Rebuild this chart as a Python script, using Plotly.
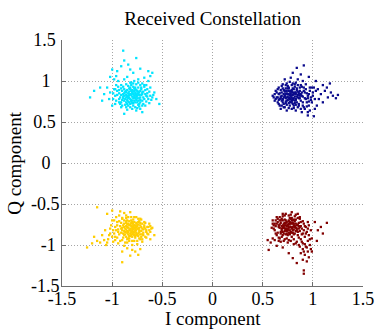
import plotly.graph_objects as go

# Hand-read sample points (I, Q) for each constellation cluster
cyan_pts = [(-0.80,0.85),(-0.78,0.82),(-0.83,0.80),(-0.75,0.88),(-0.86,0.86),(-0.72,0.80),(-0.81,0.77),(-0.77,0.90),(-0.88,0.82),(-0.70,0.84),(-0.84,0.75),(-0.79,0.79),(-0.74,0.76),(-0.90,0.88),(-0.82,0.92),(-0.76,0.83),(-0.87,0.78),(-0.73,0.86),(-0.85,0.81),(-0.79,0.73),(-0.68,0.78),(-0.81,0.88),(-0.89,0.84),(-0.77,0.86),(-0.83,0.87),(-0.71,0.90),(-0.92,0.80),(-0.75,0.79),(-0.80,0.81),(-0.86,0.74),(-0.78,0.76),(-0.66,0.82),(-0.82,0.84),(-0.74,0.92),(-0.88,0.90),(-0.79,0.70),(-0.93,0.85),(-0.72,0.74),(-0.84,0.79),(-0.76,0.81),(-0.81,0.95),(-0.69,0.87),(-0.87,0.71),(-0.73,0.83),(-0.90,0.77),(-0.77,0.74),(-0.83,0.83),(-0.70,0.76),(-0.85,0.89),(-0.78,0.88),(-0.95,0.83),(-0.65,0.85),(-0.80,0.76),(-0.75,0.85),(-0.89,0.79),(-0.82,0.72),(-0.72,0.88),(-0.86,0.83),(-0.79,0.93),(-0.74,0.71),
    (-0.81,0.83),(-0.77,0.84),(-0.84,0.85),(-0.79,0.87),(-0.75,0.82),(-0.82,0.78),(-0.86,0.80),(-0.73,0.79),(-0.78,0.80),(-0.80,0.89),(-0.76,0.77),(-0.83,0.74),(-0.71,0.83),(-0.87,0.87),(-0.74,0.87),(-0.80,0.73),(-0.85,0.77),(-0.77,0.92),(-0.69,0.80),(-0.82,0.90),(-0.79,0.84),(-0.72,0.77),(-0.88,0.85),(-0.76,0.89),(-0.84,0.82),(-0.70,0.86),(-0.81,0.75),(-0.75,0.74),(-0.89,0.81),(-0.78,0.91),(-0.67,0.84),(-0.83,0.91),(-0.73,0.72),(-0.86,0.88),(-0.77,0.79),(-0.91,0.83),(-0.71,0.92),(-0.80,0.86),(-0.85,0.72),(-0.74,0.84),
    (-0.95,0.88),(-0.93,0.78),(-0.97,0.82),(-0.91,0.91),(-0.94,0.93),(-0.99,0.85),(-0.92,0.72),(-0.96,0.76),(-0.90,0.70),(-0.86,0.68),(-0.82,0.68),(-0.77,0.68),(-0.73,0.69),(-0.69,0.72),(-0.66,0.75),(-0.64,0.78),(-0.62,0.82),(-0.63,0.87),(-0.65,0.90),(-0.68,0.93),(-0.72,0.95),(-0.76,0.96),(-0.81,0.98),(-0.86,0.96),(-0.89,0.93),(-0.84,0.94),(-0.88,0.76),(-0.70,0.70),(-0.67,0.89),(-0.93,0.89),(-0.61,0.77),(-0.59,0.83),(-0.97,0.90),(-0.75,0.67),(-0.84,0.70),(-0.65,0.81),(-0.68,0.95),(-0.91,0.74),(-0.79,0.97),(-0.74,0.98),
    (-0.98,0.90),(-1.02,0.86),(-0.96,0.95),(-1.05,0.92),(-0.99,0.78),(-1.08,0.84),(-0.94,1.00),(-0.88,1.02),(-0.85,1.05),(-0.78,1.00),(-0.70,0.97),(-0.66,0.95),(-0.62,0.92),(-0.64,1.00),(-0.68,1.04),(-0.60,0.80),(-0.63,0.73),(-0.67,0.70),(-0.72,0.66),(-0.80,0.66),(-0.85,0.65),(-0.91,0.68),(-0.97,0.72),(-1.00,0.70),(-0.93,0.74),(-1.03,0.78),(-0.58,0.86),(-0.62,1.06),(-0.74,1.02),(-0.91,0.95),(-0.96,1.06),(-0.82,0.98),(-0.76,0.64),(-0.88,0.60),(-0.70,0.62),
    (-1.18,0.88),(-1.22,0.80),(-1.12,0.92),(-1.10,0.76),(-0.91,1.18),(-0.88,1.25),(-0.89,1.37),(-0.82,1.14),(-0.95,1.12),(-0.76,1.28),(-0.79,1.10),(-0.72,1.15),(-0.98,1.02),(-1.02,1.05),(-0.56,0.78),(-0.53,0.72),(-0.60,1.10),(-0.64,1.12),(-0.84,1.20),(-1.00,1.14)]

navy_pts = [(0.80,0.83),(0.77,0.80),(0.83,0.86),(0.74,0.85),(0.86,0.79),(0.79,0.76),(0.72,0.82),(0.81,0.90),(0.76,0.88),(0.88,0.84),(0.70,0.78),(0.84,0.74),(0.78,0.85),(0.73,0.75),(0.82,0.81),(0.75,0.91),(0.87,0.88),(0.69,0.86),(0.80,0.72),(0.85,0.83),(0.77,0.78),(0.71,0.89),(0.83,0.77),(0.79,0.87),(0.74,0.80),(0.90,0.81),(0.76,0.73),(0.82,0.93),(0.68,0.81),(0.78,0.82),(0.86,0.86),(0.73,0.84),(0.81,0.79),(0.75,0.77),(0.84,0.89),(0.70,0.74),(0.79,0.80),(0.88,0.76),(0.72,0.87),(0.80,0.86),(0.77,0.70),(0.83,0.84),(0.67,0.78),(0.75,0.94),(0.86,0.72),(0.78,0.88),(0.74,0.71),(0.89,0.86),(0.71,0.80),(0.82,0.76),(0.76,0.84),(0.79,0.95),(0.85,0.80),(0.69,0.76),(0.81,0.85),(0.73,0.91),(0.87,0.82),(0.77,0.75),(0.66,0.84),(0.80,0.78),
    (0.78,0.83),(0.75,0.81),(0.81,0.84),(0.77,0.87),(0.73,0.79),(0.80,0.77),(0.84,0.81),(0.71,0.84),(0.76,0.79),(0.79,0.89),(0.74,0.76),(0.82,0.73),(0.69,0.82),(0.86,0.84),(0.72,0.88),(0.78,0.74),(0.83,0.78),(0.76,0.91),(0.68,0.79),(0.80,0.91),(0.77,0.83),(0.70,0.77),(0.85,0.87),(0.74,0.88),(0.82,0.86),(0.67,0.85),(0.79,0.74),(0.73,0.73),(0.87,0.79),(0.76,0.92),(0.65,0.80),(0.81,0.70),(0.71,0.72),(0.84,0.91),(0.75,0.84),(0.89,0.82),(0.70,0.91),(0.78,0.78),(0.83,0.71),(0.72,0.81),
    (0.62,0.84),(0.63,0.78),(0.65,0.74),(0.67,0.70),(0.71,0.68),(0.76,0.67),(0.81,0.67),(0.86,0.70),(0.90,0.74),(0.92,0.79),(0.94,0.85),(0.93,0.90),(0.89,0.93),(0.85,0.95),(0.80,0.97),(0.74,0.97),(0.69,0.94),(0.65,0.90),(0.64,0.86),(0.61,0.80),(0.96,0.84),(0.98,0.77),(1.00,0.82),(0.97,0.92),(1.03,0.88),(0.91,0.68),(0.88,0.66),(0.83,0.64),(0.69,0.70),(0.66,0.77),(0.87,0.92),(0.91,0.88),(0.73,0.95),(0.68,0.89),(0.95,0.79),(0.99,0.74),(1.01,0.92),(0.94,0.69),(0.82,0.96),(0.60,0.82),
    (0.92,0.86),(0.95,0.82),(0.93,0.78),(0.97,0.88),(0.91,0.92),(0.94,0.74),(0.98,0.80),(0.90,0.70),(0.85,0.68),(0.79,0.66),(0.72,0.68),(0.66,0.72),(0.64,0.80),(0.63,0.88),(0.66,0.92),(0.70,0.96),(0.77,0.99),(0.83,0.98),(0.88,0.95),(0.93,0.96),(0.96,0.70),(0.92,0.66),(0.89,0.62),(0.95,0.62),(0.74,0.64),(0.68,0.66),(0.62,0.76),(1.00,0.86),(1.02,0.78),(0.99,0.92),(0.85,1.02),(0.78,1.04),(0.72,1.02),(0.90,1.00),(0.96,0.75),
    (1.05,0.90),(1.08,0.84),(1.12,0.88),(1.15,0.80),(1.18,0.86),(1.20,0.82),(1.23,0.79),(1.25,0.83),(1.10,0.95),(1.06,0.78),(1.14,0.92),(1.17,0.97),(1.03,1.00),(0.96,1.05),(0.88,1.08),(0.80,1.10),(0.84,1.16),(0.91,1.19),(0.95,0.58),(1.01,0.57),(0.97,0.64),(1.04,0.70),(1.02,0.66),(1.10,0.74)]

gold_pts = [(-0.82,-0.80),(-0.79,-0.77),(-0.85,-0.83),(-0.76,-0.82),(-0.88,-0.78),(-0.80,-0.74),(-0.73,-0.79),(-0.84,-0.87),(-0.78,-0.85),(-0.90,-0.82),(-0.75,-0.75),(-0.86,-0.73),(-0.81,-0.84),(-0.71,-0.83),(-0.83,-0.76),(-0.77,-0.89),(-0.89,-0.86),(-0.74,-0.86),(-0.87,-0.80),(-0.80,-0.90),(-0.72,-0.76),(-0.84,-0.79),(-0.78,-0.72),(-0.92,-0.77),(-0.76,-0.78),(-0.82,-0.86),(-0.70,-0.80),(-0.86,-0.90),(-0.79,-0.81),(-0.88,-0.74),(-0.74,-0.72),(-0.81,-0.77),(-0.85,-0.85),(-0.77,-0.83),(-0.69,-0.85),(-0.90,-0.79),(-0.83,-0.71),(-0.75,-0.88),(-0.80,-0.79),(-0.87,-0.84),(-0.73,-0.82),(-0.79,-0.74),(-0.84,-0.92),(-0.68,-0.78),(-0.82,-0.82),(-0.76,-0.85),(-0.91,-0.85),(-0.78,-0.79),(-0.86,-0.77),(-0.72,-0.87),(-0.80,-0.83),(-0.88,-0.88),(-0.74,-0.80),(-0.83,-0.89),(-0.77,-0.76),(-0.94,-0.81),(-0.70,-0.74),(-0.85,-0.75),(-0.79,-0.87),(-0.81,-0.73),
    (-0.80,-0.81),(-0.77,-0.79),(-0.83,-0.82),(-0.79,-0.84),(-0.75,-0.77),(-0.82,-0.75),(-0.86,-0.81),(-0.73,-0.84),(-0.78,-0.76),(-0.81,-0.88),(-0.76,-0.73),(-0.84,-0.74),(-0.71,-0.78),(-0.87,-0.87),(-0.74,-0.89),(-0.80,-0.72),(-0.85,-0.78),(-0.77,-0.91),(-0.69,-0.81),(-0.82,-0.89),(-0.79,-0.78),(-0.72,-0.73),(-0.88,-0.83),(-0.76,-0.87),(-0.84,-0.84),(-0.70,-0.87),(-0.81,-0.70),(-0.75,-0.80),(-0.89,-0.76),(-0.78,-0.88),(-0.67,-0.80),(-0.83,-0.92),(-0.73,-0.71),(-0.86,-0.71),(-0.77,-0.81),(-0.91,-0.80),(-0.71,-0.90),(-0.80,-0.86),(-0.85,-0.70),(-0.74,-0.75),
    (-0.96,-0.82),(-0.95,-0.76),(-0.93,-0.71),(-0.90,-0.67),(-0.86,-0.67),(-0.81,-0.66),(-0.76,-0.66),(-0.71,-0.69),(-0.67,-0.73),(-0.65,-0.78),(-0.63,-0.82),(-0.64,-0.87),(-0.66,-0.91),(-0.70,-0.93),(-0.75,-0.95),(-0.80,-0.95),(-0.85,-0.93),(-0.89,-0.91),(-0.93,-0.87),(-0.97,-0.90),(-0.99,-0.82),(-1.01,-0.76),(-0.98,-0.70),(-0.92,-0.95),(-0.87,-0.97),(-0.68,-0.76),(-0.69,-0.88),(-0.74,-0.68),(-0.61,-0.80),(-0.79,-0.69),(-0.91,-0.73),(-0.94,-0.84),(-0.66,-0.84),(-0.73,-0.92),(-0.83,-0.95),(-1.03,-0.88),(-1.05,-0.97),(-0.97,-0.94),(-0.88,-0.70),(-0.62,-0.77),
    (-0.66,-0.82),(-0.64,-0.78),(-0.65,-0.86),(-0.68,-0.72),(-0.72,-0.68),(-0.78,-0.66),(-0.84,-0.66),(-0.90,-0.68),(-0.95,-0.72),(-0.97,-0.78),(-0.98,-0.86),(-0.95,-0.91),(-0.90,-0.94),(-0.85,-0.97),(-0.78,-0.95),(-0.72,-0.93),(-0.67,-0.90),(-0.62,-0.84),(-0.60,-0.79),(-0.93,-0.64),(-0.88,-0.61),(-0.82,-0.60),(-0.96,-0.66),(-1.00,-0.70),(-1.02,-0.80),(-1.00,-0.90),(-0.94,-0.98),(-0.80,-1.00),(-0.75,-0.99),(-0.88,-1.01),(-0.70,-0.96),(-0.63,-0.74),(-0.99,-0.96),(-1.04,-0.93),(-0.86,-0.64),
    (-1.08,-0.94),(-1.12,-0.97),(-1.15,-0.95),(-1.20,-0.98),(-1.25,-1.03),(-1.10,-0.88),(-1.06,-1.00),(-1.18,-0.90),(-1.05,-0.62),(-1.00,-0.58),(-1.15,-0.54),(-0.92,-0.59),(-0.72,-1.05),(-0.77,-1.08),(-0.74,-1.12),(-0.80,-1.06),(-0.85,-1.04),(-0.90,-1.21),(-0.82,-1.13),(-0.90,-1.08),(-1.02,-0.86),(-1.07,-0.82),(-0.58,-0.88),(-0.62,-0.93)]

red_pts = [(0.78,-0.78),(0.75,-0.75),(0.81,-0.81),(0.72,-0.80),(0.84,-0.76),(0.77,-0.72),(0.70,-0.76),(0.80,-0.85),(0.74,-0.83),(0.86,-0.80),(0.68,-0.73),(0.82,-0.71),(0.76,-0.79),(0.71,-0.86),(0.79,-0.74),(0.73,-0.70),(0.85,-0.84),(0.67,-0.79),(0.80,-0.78),(0.75,-0.88),(0.83,-0.74),(0.69,-0.82),(0.78,-0.68),(0.88,-0.77),(0.72,-0.76),(0.81,-0.87),(0.66,-0.76),(0.77,-0.82),(0.84,-0.80),(0.70,-0.70),(0.79,-0.80),(0.74,-0.77),(0.86,-0.73),(0.76,-0.85),(0.68,-0.84),(0.82,-0.78),(0.73,-0.73),(0.79,-0.90),(0.87,-0.83),(0.71,-0.79),(0.77,-0.75),(0.65,-0.72),(0.83,-0.69),(0.75,-0.81),(0.80,-0.73),(0.69,-0.77),(0.85,-0.88),(0.78,-0.84),(0.72,-0.73),(0.89,-0.80),(0.76,-0.71),(0.81,-0.76),(0.67,-0.70),(0.74,-0.80),(0.83,-0.83),(0.70,-0.88),(0.79,-0.70),(0.86,-0.77),(0.73,-0.82),(0.77,-0.87),
    (0.76,-0.78),(0.73,-0.76),(0.79,-0.79),(0.75,-0.82),(0.71,-0.74),(0.78,-0.73),(0.82,-0.77),(0.69,-0.80),(0.74,-0.72),(0.77,-0.86),(0.72,-0.69),(0.80,-0.70),(0.67,-0.75),(0.84,-0.82),(0.70,-0.84),(0.76,-0.70),(0.81,-0.74),(0.73,-0.87),(0.66,-0.78),(0.79,-0.85),(0.75,-0.76),(0.68,-0.70),(0.83,-0.79),(0.72,-0.83),(0.80,-0.82),(0.64,-0.74),(0.77,-0.67),(0.71,-0.77),(0.85,-0.75),(0.74,-0.86),(0.63,-0.77),(0.79,-0.67),(0.69,-0.68),(0.82,-0.86),(0.73,-0.80),(0.87,-0.78),(0.68,-0.86),(0.76,-0.74),(0.81,-0.69),(0.70,-0.79),
    (0.61,-0.76),(0.62,-0.82),(0.64,-0.88),(0.67,-0.92),(0.71,-0.95),(0.76,-0.94),(0.81,-0.93),(0.86,-0.91),(0.89,-0.87),(0.91,-0.82),(0.92,-0.77),(0.90,-0.71),(0.87,-0.66),(0.83,-0.63),(0.78,-0.63),(0.72,-0.64),(0.67,-0.66),(0.63,-0.70),(0.60,-0.74),(0.65,-0.85),(0.69,-0.90),(0.74,-0.92),(0.88,-0.72),(0.93,-0.86),(0.95,-0.80),(0.89,-0.96),(0.92,-0.99),(0.94,-1.03),(0.87,-1.02),(0.83,-0.98),(0.97,-0.93),(0.64,-0.66),(0.70,-0.62),(0.85,-0.67),(0.59,-0.79),(0.66,-0.95),(0.60,-0.92),(0.75,-0.97),(0.96,-0.76),(0.91,-1.08),
    (0.90,-0.86),(0.92,-0.90),(0.88,-0.93),(0.94,-0.84),(0.91,-0.74),(0.93,-0.78),(0.87,-0.68),(0.82,-0.65),(0.76,-0.64),(0.70,-0.65),(0.65,-0.68),(0.62,-0.74),(0.61,-0.80),(0.63,-0.86),(0.66,-0.91),(0.72,-0.93),(0.78,-0.95),(0.84,-0.96),(0.95,-0.95),(0.90,-0.98),(0.96,-0.88),(0.98,-0.82),(0.60,-0.70),(0.73,-0.62),(0.79,-0.60),(0.85,-0.62),(0.68,-0.96),(0.62,-0.94),(0.58,-0.97),(0.86,-1.00),(0.93,-1.02),(0.97,-1.00),(0.81,-0.99),(0.99,-0.92),(0.95,-0.72),
    (0.90,-1.05),(0.95,-1.08),(0.98,-1.05),(0.92,-1.12),(0.96,-1.15),(0.88,-1.10),(0.94,-1.20),(0.90,-1.18),(0.91,-1.31),(0.91,-1.35),(0.80,-1.16),(0.76,-1.10),(0.70,-1.03),(0.64,-1.01),(0.56,-1.06),(0.55,-0.94),(1.05,-0.82),(1.08,-0.78),(1.14,-0.73),(1.10,-0.86),(1.02,-0.72),(1.04,-0.95),(0.99,-1.08),(0.84,-1.22)]

series = [
    ("cyan", cyan_pts, "rgb(0,228,255)"),
    ("navy", navy_pts, "rgb(10,10,140)"),
    ("gold", gold_pts, "rgb(255,205,0)"),
    ("darkred", red_pts, "rgb(130,0,0)"),
]

tick_vals = [-1.5, -1, -0.5, 0, 0.5, 1, 1.5]
x_tick_text = ["-1.5", "-1", "-0.5", "0", "0.5", "1", "1.5"]
# y labels padded so that they appear centred in a column, as in the reference
y_tick_text = ["-1.5", "-1\u2009", "-0.5", "0\u2002", "0.5\u2009", "1\u2002", "1.5\u2009"]

title_text = "Received Constellation"
x_title = "I component"
y_title = "Q component"

font = "Liberation Serif, Times New Roman, serif"

fig = go.Figure()
for name, pts, col in series:
    fig.add_trace(go.Scatter(
        x=[p[0] for p in pts], y=[p[1] for p in pts], mode="markers", name=name,
        marker=dict(symbol="square", size=2.3, color=col, line=dict(width=0)),
        showlegend=False))

axis_common = dict(
    range=[-1.5, 1.5], tickvals=tick_vals, automargin=False,
    showgrid=True, gridcolor="rgb(165,165,165)", griddash="1px,2px", gridwidth=1,
    zeroline=False, showline=True, linecolor="rgb(110,110,110)", linewidth=1,
    ticks="inside", ticklen=4, tickcolor="rgb(110,110,110)",
    tickfont=dict(family=font, size=18, color="black"), mirror=False,
)
fig.update_layout(
    template="none",
    width=375, height=329,
    margin=dict(l=62, r=12, t=40, b=43, pad=0),
    paper_bgcolor="white", plot_bgcolor="white",
    title=dict(text=title_text, x=0.567, xanchor="center", y=0.945, yanchor="middle",
               font=dict(family=font, size=19, color="black")),
    xaxis=dict(**axis_common, ticktext=x_tick_text, ticklabelstandoff=-4),
    yaxis=dict(**axis_common, ticktext=y_tick_text, ticklabelstandoff=-2),
    annotations=[
        dict(text=x_title, xref="paper", yref="paper", x=0.5, y=-0.134,
             xanchor="center", yanchor="middle", showarrow=False,
             font=dict(family=font, size=19, color="black")),
        dict(text=y_title, xref="paper", yref="paper", x=-0.16, y=0.5,
             xanchor="center", yanchor="middle", showarrow=False, textangle=-90,
             font=dict(family=font, size=19, color="black")),
    ],
)
fig.write_html("out.html")
